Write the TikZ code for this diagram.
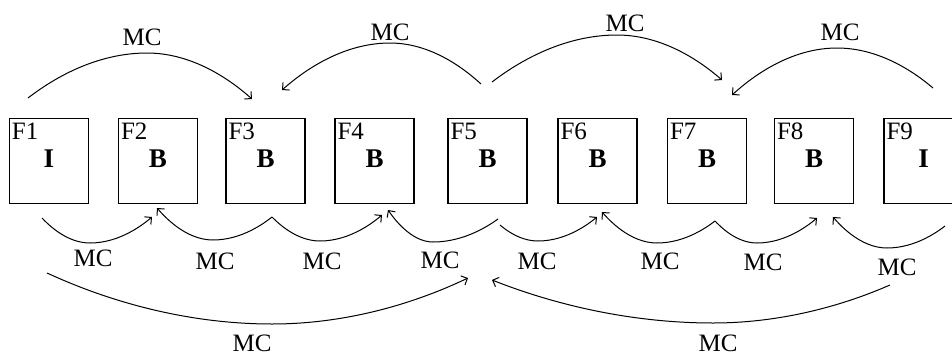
\documentclass[tikz,border=0pt]{standalone}
\usepackage{fontspec}
\setmainfont{Liberation Serif}
\usetikzlibrary{arrows.meta}
\begin{document}
\begin{tikzpicture}[x=1pt,y=-1pt,
  frame/.style={draw,line width=1.4pt,minimum width=79pt,minimum height=85pt,inner sep=0pt},
  flabel/.style={anchor=north west,inner sep=0pt,font=\fontsize{25}{28}\selectfont},
  kind/.style={inner sep=0pt,font=\fontsize{27}{30}\selectfont\bfseries},
  mc/.style={inner sep=0pt,font=\fontsize{25}{28}\selectfont},
  arr/.style={line width=1pt,-{Straight Barb[length=5pt,width=10pt]}},
  plain/.style={line width=1pt}]
\useasboundingbox (0,0) rectangle (952,356);
\fill[white] (0,0) rectangle (952,356);
\clip (0,0) rectangle (952,356);
% frames
\foreach \n/\x/\k in {1/49/I,2/158/B,3/265.5/B,4/374.5/B,5/487.5/B,6/597.5/B,7/707/B,8/814/B,9/923.5/I}{
  \node[frame] (F\n) at (\x,161) {};
  \node[flabel] (L\n) at ([xshift=3pt,yshift=-5pt]F\n.north west) {F\n};
  \node[kind] (K\n) at (\x,159) {\k};
}
% top arcs
\coordinate (t1s) at (28,98);  \coordinate (t1e) at (252,99);
\coordinate (t2s) at (481,84); \coordinate (t2e) at (282,90);
\coordinate (t3s) at (492,82); \coordinate (t3e) at (722,80);
\coordinate (t4s) at (933,88); \coordinate (t4e) at (732,95);
\draw[arr] (t1s) parabola bend (147,53) (t1e);
\draw[arr] (t2s) parabola bend (390,43) (t2e);
\draw[arr] (t3s) parabola bend (617,35) (t3e);
\draw[arr] (t4s) parabola bend (837,48) (t4e);
\node[mc] (m1) at (142,37) {MC};
\node[mc] (m2) at (390,32) {MC};
\node[mc] (m3) at (625,23) {MC};
\node[mc] (m4) at (840,32) {MC};
% bottom short arcs
\coordinate (b1s) at (42,218);  \coordinate (b1e) at (152,217);
\coordinate (b23) at (272,217);
\coordinate (b2e) at (157,208); \coordinate (b3e) at (382,215);
\coordinate (b4s) at (498,219); \coordinate (b4e) at (388,210);
\coordinate (b5s) at (500,225); \coordinate (b5e) at (597,217);
\coordinate (b67) at (715,221);
\coordinate (b6e) at (602,212); \coordinate (b7e) at (817,218);
\coordinate (b8s) at (945,226); \coordinate (b8e) at (833,217);
\draw[arr] (b1s) parabola bend (90,243) (b1e);
\draw[arr] (b23) parabola bend (213,240) (b2e);
\draw[arr] (b23) parabola bend (320,241) (b3e);
\draw[arr] (b4s) parabola bend (433,242) (b4e);
\draw[arr] (b5s) parabola bend (538,241) (b5e);
\draw[arr] (b67) parabola bend (657,243) (b6e);
\draw[arr] (b67) parabola bend (757,243) (b7e);
\draw[arr] (b8s) parabola bend (887,248) (b8e);
\node[mc] (n1) at (93,258) {MC};
\node[mc] (n2) at (215,261) {MC};
\node[mc] (n3) at (322,261) {MC};
\node[mc] (n4) at (440,260) {MC};
\node[mc] (n5) at (537,261) {MC};
\node[mc] (n6) at (660,261) {MC};
\node[mc] (n7) at (763,262) {MC};
\node[mc] (n8) at (897,267) {MC};
% long arcs
\coordinate (l1s) at (47,273);  \coordinate (l1e) at (468,278);
\coordinate (l2s) at (890,285); \coordinate (l2e) at (492,280);
\draw[arr] (l1s) parabola bend (272,324) (l1e);
\draw[arr] (l2s) parabola bend (713,323) (l2e);
\node[mc] (p1) at (252,343) {MC};
\node[mc] (p2) at (718,343) {MC};
\end{tikzpicture}
\end{document}
